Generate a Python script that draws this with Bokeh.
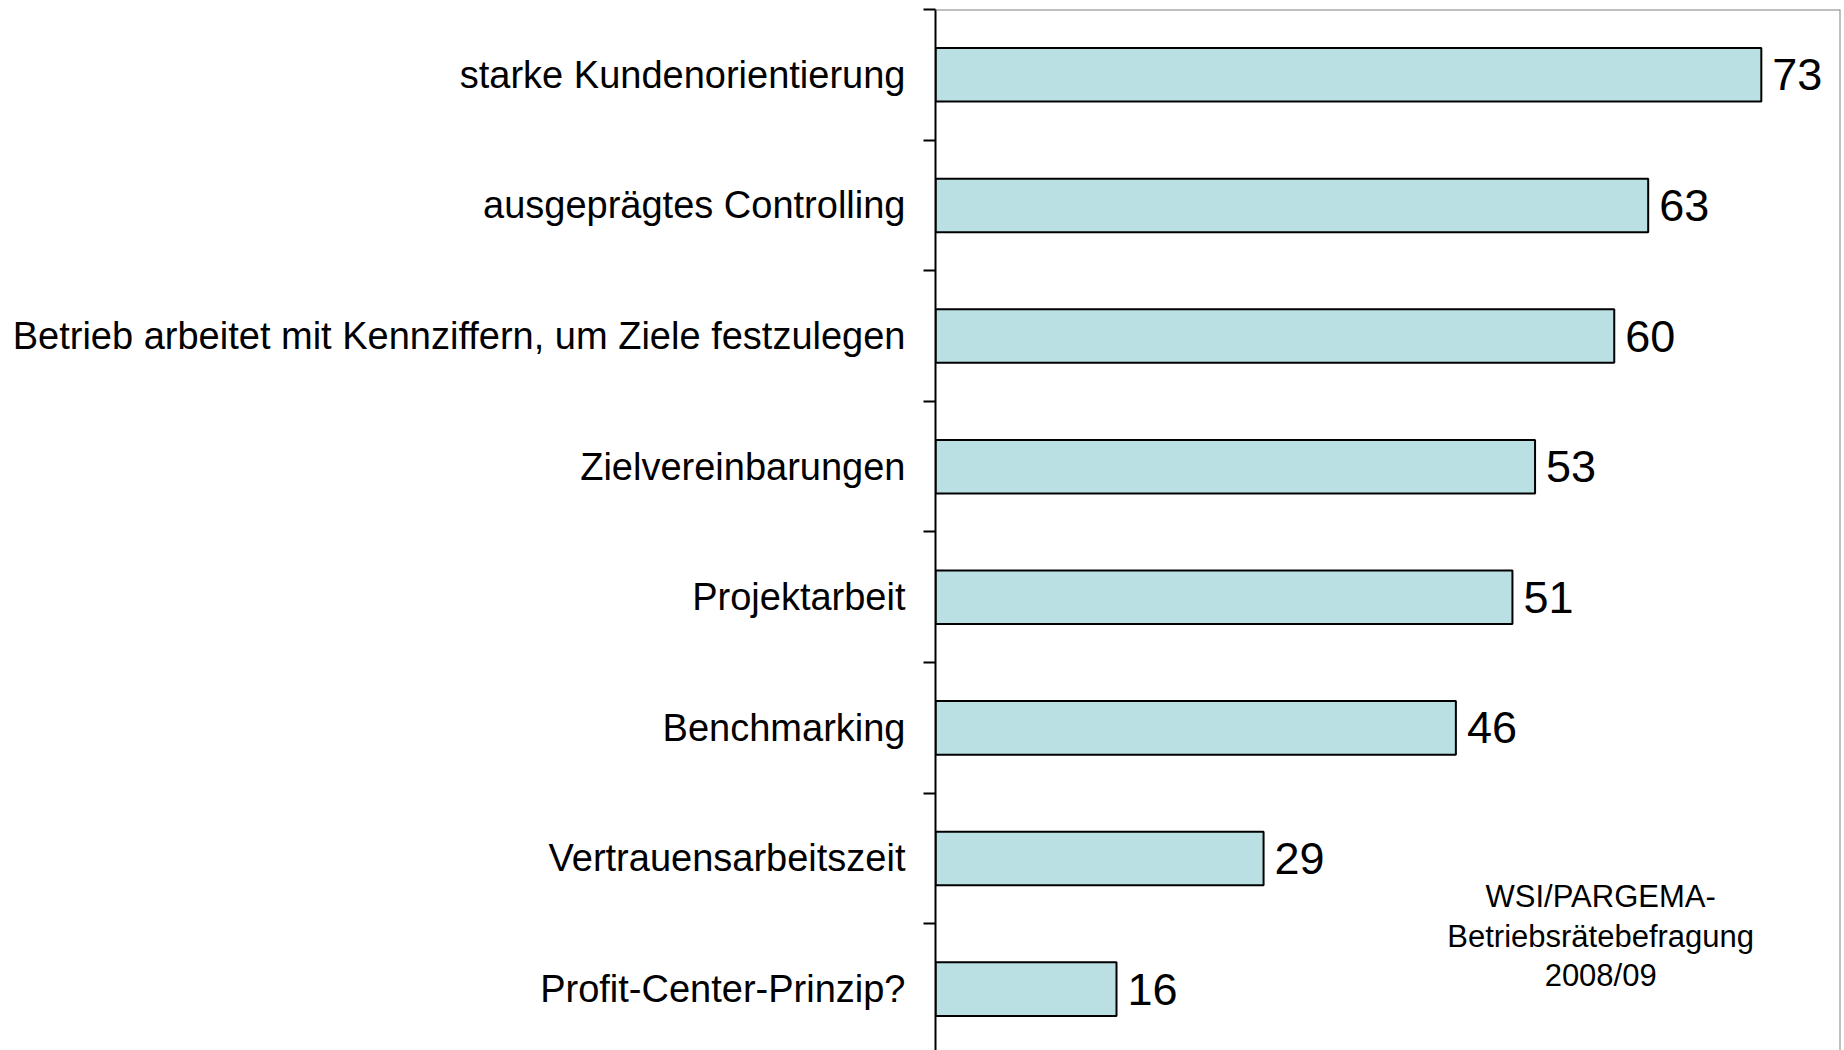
from bokeh.plotting import figure
from bokeh.models import Range1d, FixedTicker, Span, Label, ColumnDataSource
from bokeh.core.properties import value
from bokeh.embed import file_html
from bokeh.resources import INLINE

categories = [
    "starke Kundenorientierung",
    "ausgeprägtes Controlling",
    "Betrieb arbeitet mit Kennziffern, um Ziele festzulegen",
    "Zielvereinbarungen",
    "Projektarbeit",
    "Benchmarking",
    "Vertrauensarbeitszeit",
    "Profit-Center-Prinzip?",
]
values = [73, 63, 60, 53, 51, 46, 29, 16]
note = "WSI/PARGEMA-\nBetriebsrätebefragung\n2008/09"

n = len(categories)
centers = [i + 0.5 for i in range(n)]
boundaries = list(range(n + 1))

src = ColumnDataSource(dict(
    y=centers, v=values, lab=[str(v) for v in values], cat=categories,
))

p = figure(width=1844, height=1050, output_backend="svg", toolbar_location=None,
           x_range=Range1d(0, 80), y_range=Range1d(7.97, 0),
           min_border_left=935, min_border_right=4, min_border_top=9, min_border_bottom=0,
           x_axis_location=None)
p.outline_line_color = None
p.grid.visible = False
p.background_fill_color = "white"
p.border_fill_color = "white"

p.hbar(y="y", right="v", left=0, height=0.41, source=src,
       fill_color="#BBE0E3", line_color="black", line_width=2)

p.text(x="v", y="y", text="lab", source=src, x_offset=11,
       text_font=value("Liberation Sans"), text_font_size="45px",
       text_baseline="middle", text_align="left", text_color="black")

ax = p.yaxis[0]
ax.ticker = FixedTicker(ticks=centers, minor_ticks=boundaries)
ax.major_label_overrides = {c: lab for c, lab in zip(centers, categories)}
ax.major_tick_out = 0
ax.major_tick_in = 0
ax.minor_tick_out = 12
ax.minor_tick_in = 0
ax.minor_tick_line_color = "black"
ax.minor_tick_line_width = 2
ax.axis_line_color = "black"
ax.axis_line_width = 2
ax.major_label_standoff = 18
ax.major_label_text_font = "Liberation Sans"
ax.major_label_text_font_size = "38px"
ax.major_label_text_color = "black"

p.add_layout(Span(location=0, dimension="width", line_color="#808080", line_width=2))
p.add_layout(Span(location=80, dimension="height", line_color="#808080", line_width=2))

p.add_layout(Label(x=58.8, y=6.66, text=note, text_align="center", text_baseline="top",
                   text_font="Liberation Sans", text_font_size="31px",
                   text_line_height=1.13, text_color="black"))

open("out.html", "w").write(file_html(p, INLINE))
